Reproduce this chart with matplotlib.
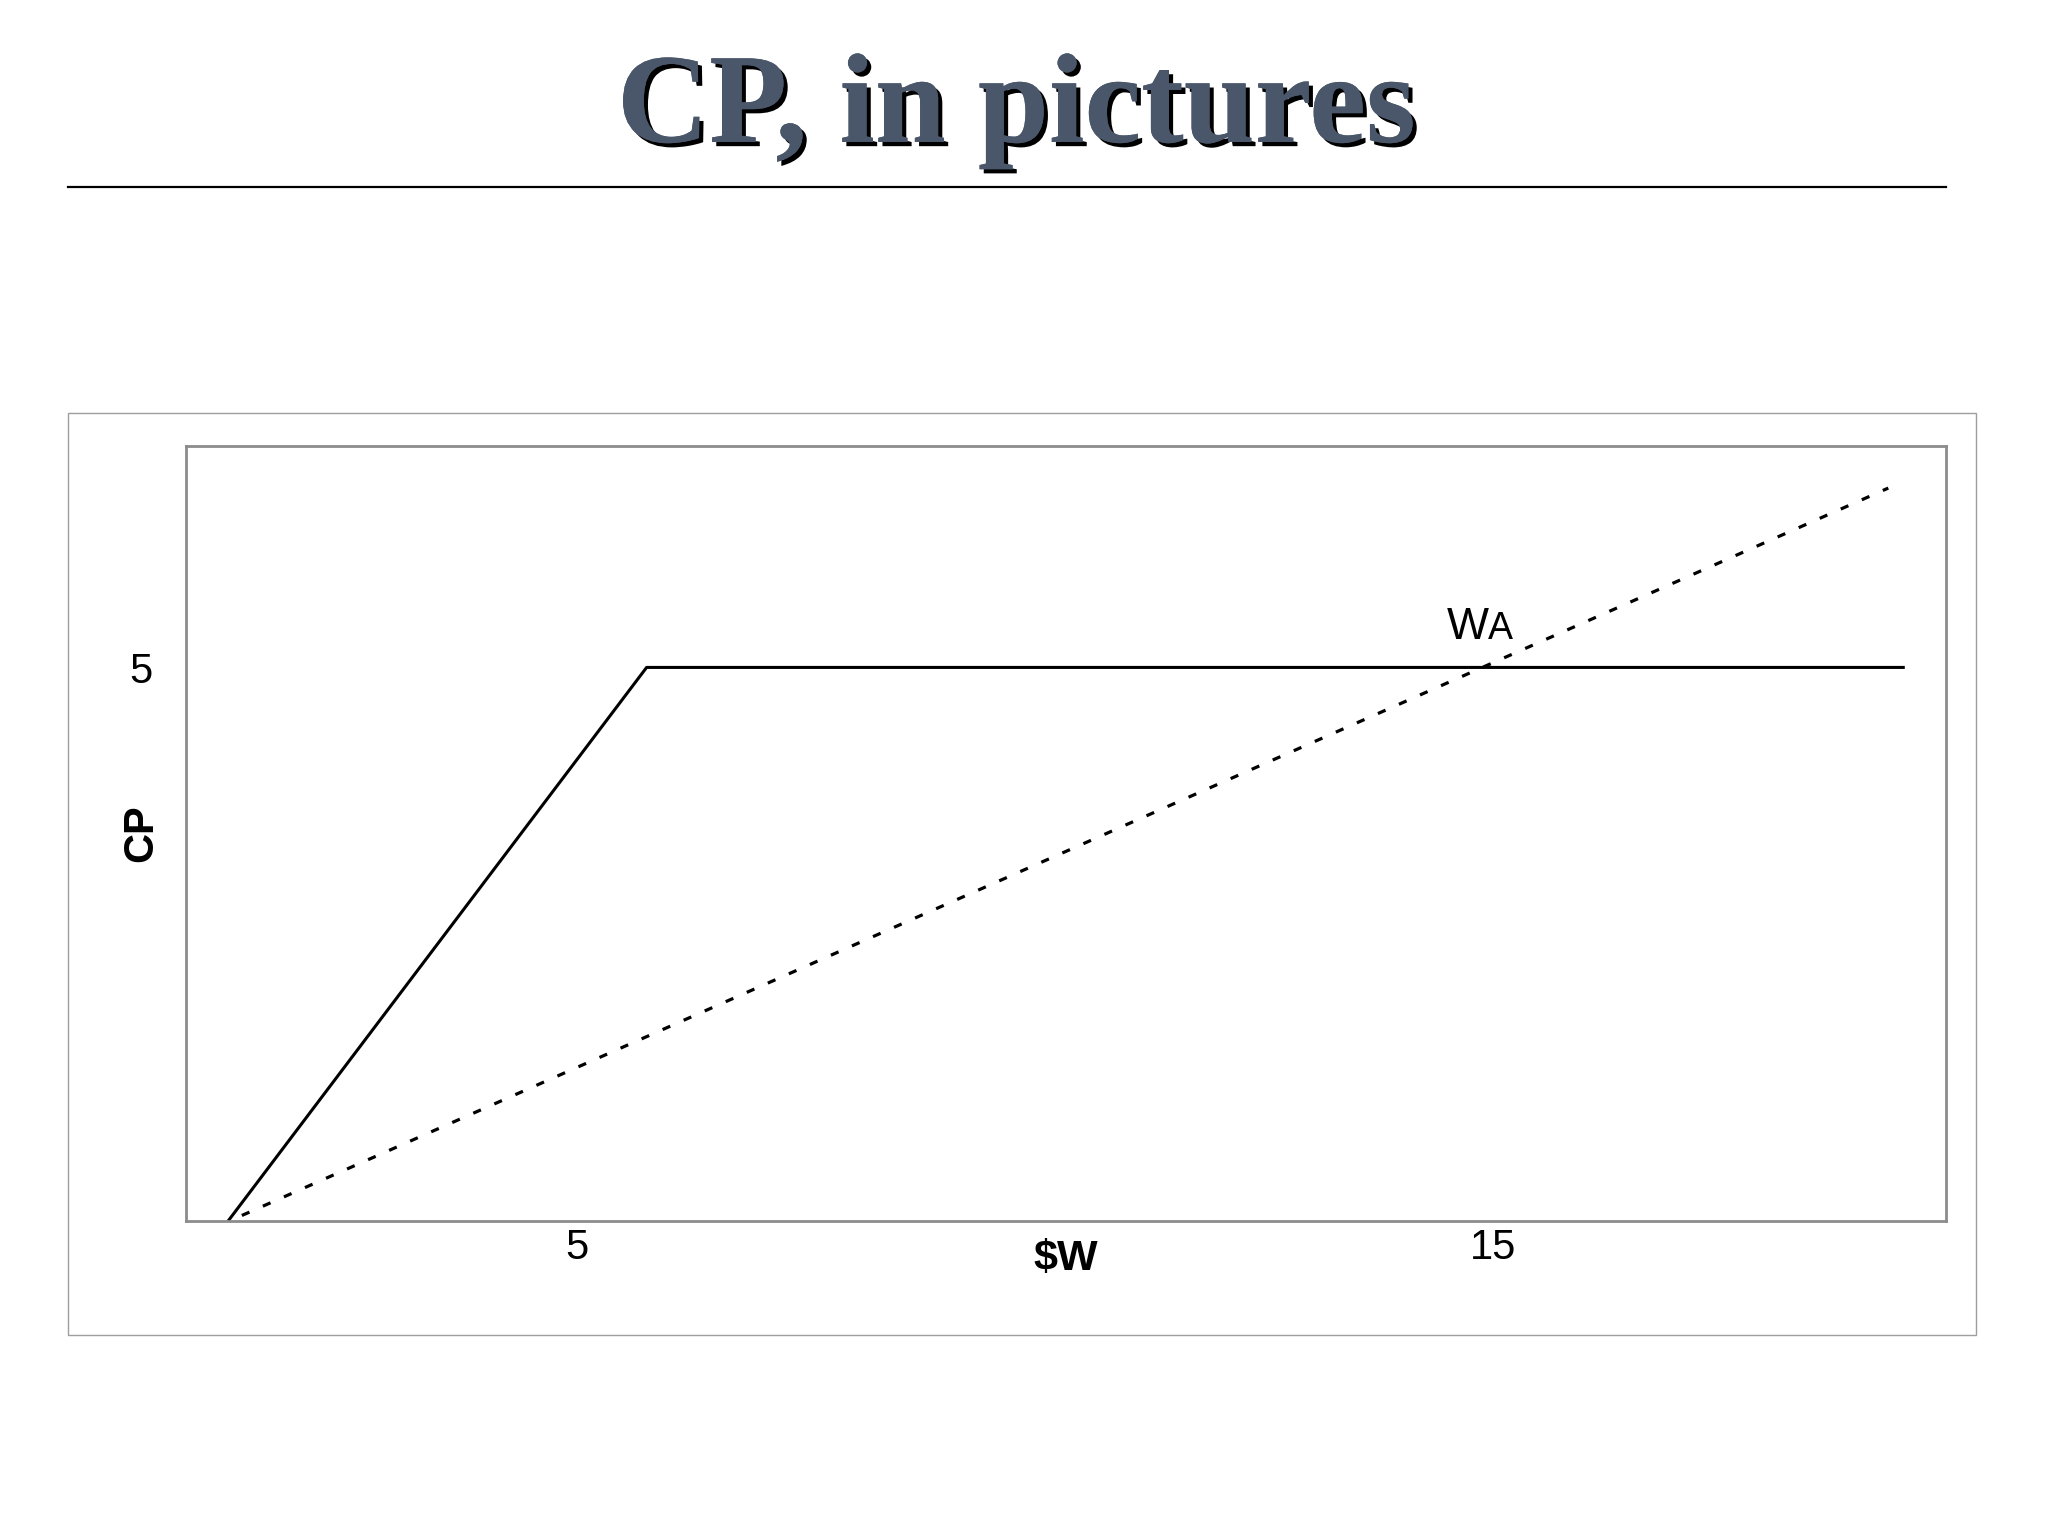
import matplotlib
matplotlib.use("Agg")
import matplotlib.pyplot as plt
import matplotlib.patheffects as pe
from matplotlib.lines import Line2D
from matplotlib.patches import Rectangle

# values
solid_x = [1.19, 5.76, 19.5]
solid_y = [0.0, 5.0, 5.0]
dotted_x = [1.34, 19.32]
dotted_y = [0.05, 6.62]
x_ticks = [5, 15]
x_tick_labels = ["5", "15"]
y_ticks = [5]
y_tick_labels = ["5"]
label_w = (14.5, 5.26)

TITLE_COLOR = "#4a566a"
FRAME_GREY = "#8c8c8c"

plt.rcParams["font.family"] = ["Liberation Sans", "DejaVu Sans"]

fig = plt.figure(figsize=(20.48, 15.36), dpi=100)
fig.patch.set_facecolor("white")

# slide title with drop shadow
fig.text(0.4961, 1 - 142 / 1536, "CP, in pictures", ha="center", va="baseline",
         fontsize=92, fontweight="bold", family="Liberation Serif",
         color=TITLE_COLOR,
         path_effects=[pe.withSimplePatchShadow(offset=(3.0, -3.0),
                                                shadow_rgbFace="black", alpha=1.0),
                       pe.Normal()])

# rule under the title
fig.add_artist(Line2D([68 / 2048, 1946 / 2048], [1 - 187 / 1536] * 2,
                      transform=fig.transFigure, color="black", lw=1.6))

# outer chart box
fig.add_artist(Rectangle((68 / 2048, 1 - 1335 / 1536), (1976 - 68) / 2048,
                         (1335 - 413) / 1536, transform=fig.transFigure,
                         fill=False, edgecolor="#9e9e9e", lw=1.0))

ax = fig.add_axes([186 / 2048, 1 - 1221 / 1536, 1760 / 2048, 775 / 1536])
ax.plot(solid_x, solid_y, color="black", lw=2.2, solid_capstyle="butt")
ax.plot(dotted_x, dotted_y, color="black", lw=2.3, dashes=(2.6, 4.6))

ax.set_xlim(0.73, 19.95)
ax.set_ylim(0, 7)
ax.set_xticks(x_ticks, x_tick_labels)
ax.set_yticks(y_ticks, y_tick_labels)
ax.tick_params(axis="both", length=0, labelsize=30)
ax.tick_params(axis="x", pad=5)
ax.tick_params(axis="y", pad=24)
for s in ax.spines.values():
    s.set_color(FRAME_GREY)
    s.set_linewidth(2.0)

ax.set_xlabel(r"\$W", fontsize=31, fontweight="bold")
ax.xaxis.label.set_va("top")
ax.xaxis.set_label_coords(0.5, -0.023)
ax.set_ylabel("CP", fontsize=30, fontweight="bold")
ax.yaxis.label.set_va("center")
ax.yaxis.set_label_coords(-0.0256, 0.5)

ax.text(label_w[0], label_w[1], "W", fontsize=32, ha="left", va="baseline")
ax.annotate("A", xy=label_w, xytext=(29.5, 0), textcoords="offset points",
            fontsize=27, ha="left", va="baseline")

fig.savefig("out.png", dpi=100, facecolor="white")
